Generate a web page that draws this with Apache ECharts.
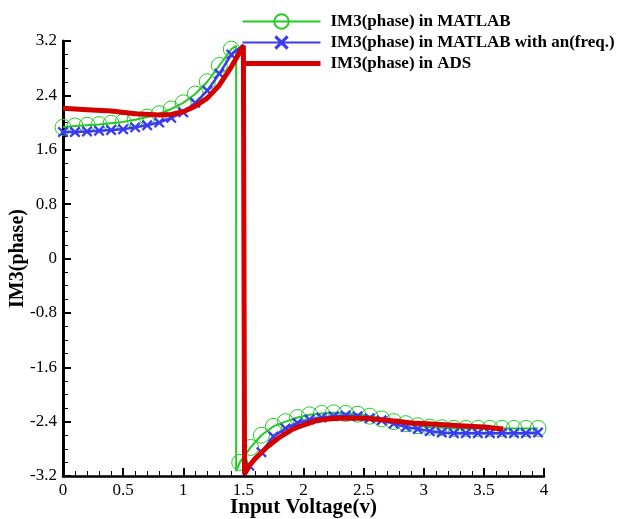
<!DOCTYPE html>
<html>
<head>
<meta charset="utf-8">
<script src="https://cdn.jsdelivr.net/npm/echarts@6/dist/echarts.min.js"></script>
<style>
  html, body { margin: 0; padding: 0; background: #fff; }
  #chart { width: 620px; height: 519px; }
</style>
</head>
<body>
<div id="chart"></div>
<script>
// MATLAB (circles): branch before the jump, jump, branch after
const matlabUpper = [[0, 1.93], [0.1, 1.95], [0.2, 1.96], [0.3, 1.97], [0.4, 1.99], [0.5, 2.01], [0.6, 2.04], [0.7, 2.08], [0.8, 2.13], [0.9, 2.2], [1.0, 2.29], [1.1, 2.42], [1.2, 2.6], [1.3, 2.84], [1.4, 3.08]];
const matlabJump = [[1.44, 3.13], [1.44, -3.13]];
const matlabLower = [[1.47, -3.0], [1.56, -2.78], [1.65, -2.6], [1.75, -2.47], [1.85, -2.4], [1.95, -2.34], [2.05, -2.3], [2.15, -2.28], [2.25, -2.27], [2.35, -2.28], [2.45, -2.29], [2.55, -2.32], [2.65, -2.36], [2.75, -2.4], [2.85, -2.43], [2.95, -2.46], [3.05, -2.48], [3.15, -2.49], [3.25, -2.5], [3.35, -2.5], [3.45, -2.5], [3.55, -2.5], [3.65, -2.5], [3.75, -2.5], [3.85, -2.5], [3.95, -2.5]];

// MATLAB with an(freq.) (crosses)
const anUpper = [[0, 1.86], [0.1, 1.86], [0.2, 1.87], [0.3, 1.88], [0.4, 1.89], [0.5, 1.9], [0.6, 1.93], [0.7, 1.96], [0.8, 2.0], [0.9, 2.07], [1.0, 2.15], [1.1, 2.29], [1.2, 2.47], [1.3, 2.72], [1.4, 3.0]];
const anJump = [[1.5, 3.14], [1.5, -3.14]];
const anLower = [[1.55, -3.05], [1.65, -2.85], [1.75, -2.62], [1.85, -2.5], [1.95, -2.42], [2.05, -2.37], [2.15, -2.34], [2.25, -2.32], [2.35, -2.31], [2.45, -2.32], [2.55, -2.35], [2.65, -2.38], [2.75, -2.43], [2.85, -2.48], [2.95, -2.51], [3.05, -2.54], [3.15, -2.56], [3.25, -2.57], [3.35, -2.57], [3.45, -2.57], [3.55, -2.57], [3.65, -2.57], [3.75, -2.57], [3.85, -2.57], [3.95, -2.56]];

// ADS (thick red line)
const ads = [[0, 2.21], [0.2, 2.19], [0.4, 2.17], [0.6, 2.13], [0.8, 2.11], [0.9, 2.12], [1.0, 2.16], [1.1, 2.24], [1.2, 2.36], [1.3, 2.55], [1.4, 2.82], [1.5, 3.13], [1.51, 3.13], [1.51, -3.17], [1.55, -3.05], [1.6, -2.94], [1.7, -2.77], [1.8, -2.63], [1.9, -2.52], [2.0, -2.45], [2.1, -2.39], [2.2, -2.36], [2.3, -2.35], [2.5, -2.35], [2.7, -2.38], [2.9, -2.42], [3.1, -2.44], [3.3, -2.46], [3.5, -2.48], [3.66, -2.51]];

const seriesNames = ['IM3(phase) in MATLAB', 'IM3(phase) in MATLAB with an(freq.)', 'IM3(phase) in ADS'];

const GREEN = '#22cc22';
const BLUE = '#3a3af2';
const RED = '#d40000';
const FONT = 'Liberation Serif';
const CROSS = 'path://M0,1.5L1.5,0L5,3.5L8.5,0L10,1.5L6.5,5L10,8.5L8.5,10L5,6.5L1.5,10L0,8.5L3.5,5Z';

const noMark = p => ({ value: p, symbol: 'none' });
const fmt = v => String(+v.toFixed(2));

const chart = echarts.init(document.getElementById('chart'));
chart.setOption({
  animation: false,
  backgroundColor: '#fff',
  grid: { left: 63, right: 76, top: 41, bottom: 43, containLabel: false, outerBoundsMode: 'none' },
  legend: {
    orient: 'vertical',
    left: 240,
    top: 13,
    padding: 0,
    itemWidth: 78,
    itemHeight: 18,
    itemGap: 4,
    data: [
      { name: seriesNames[0] },
      { name: seriesNames[1] },
      { name: seriesNames[2], itemStyle: { opacity: 0 }, lineStyle: { width: 5 } }
    ],
    textStyle: { fontFamily: FONT, fontWeight: 'bold', fontSize: 17, color: '#000', padding: [0, 0, 0, 5] }
  },
  xAxis: {
    type: 'value',
    min: 0,
    max: 4,
    interval: 0.5,
    name: 'Input Voltage(v)',
    nameLocation: 'middle',
    nameGap: 21,
    nameMoveOverlap: false,
    nameTextStyle: { fontFamily: FONT, fontWeight: 'bold', fontSize: 21, color: '#000' },
    axisLine: { onZero: false, lineStyle: { color: '#000', width: 2.5 } },
    axisTick: { inside: true, length: 8, lineStyle: { color: '#000', width: 2 } },
    minorTick: { show: true, splitNumber: 5, length: 5, lineStyle: { color: '#000', width: 1 } },
    axisLabel: { fontFamily: FONT, fontSize: 17, color: '#000', margin: 6, formatter: fmt },
    splitLine: { show: false }
  },
  yAxis: {
    type: 'value',
    min: -3.2,
    max: 3.2,
    interval: 0.8,
    name: 'IM3(phase)',
    nameLocation: 'middle',
    nameGap: 35,
    nameMoveOverlap: false,
    nameTextStyle: { fontFamily: FONT, fontWeight: 'bold', fontSize: 20, color: '#000' },
    axisLine: { onZero: false, lineStyle: { color: '#000', width: 3 } },
    axisTick: { inside: true, length: 8, lineStyle: { color: '#000', width: 2 } },
    minorTick: { show: true, splitNumber: 4, length: 5, lineStyle: { color: '#000', width: 1 } },
    axisLabel: { fontFamily: FONT, fontSize: 17, color: '#000', margin: 6, formatter: fmt },
    splitLine: { show: false }
  },
  series: [
    {
      name: seriesNames[0],
      type: 'line',
      data: [...matlabUpper, ...matlabJump.map(noMark), ...matlabLower],
      symbol: 'circle',
      symbolSize: 16,
      showAllSymbol: true,
      color: GREEN,
      itemStyle: { color: 'rgba(0,0,0,0)', borderColor: GREEN, borderWidth: 1 },
      lineStyle: { color: GREEN, width: 2 },
      z: 2
    },
    {
      name: seriesNames[1],
      type: 'line',
      data: [...anUpper, ...anJump.map(noMark), ...anLower],
      symbol: CROSS,
      symbolSize: 11,
      showAllSymbol: true,
      color: BLUE,
      itemStyle: { color: BLUE, borderWidth: 0 },
      lineStyle: { color: BLUE, width: 2.5 },
      z: 3
    },
    {
      name: seriesNames[2],
      type: 'line',
      data: ads,
      symbol: 'none',
      color: RED,
      lineStyle: { color: RED, width: 5 },
      z: 4
    }
  ]
});
</script>
</body>
</html>
